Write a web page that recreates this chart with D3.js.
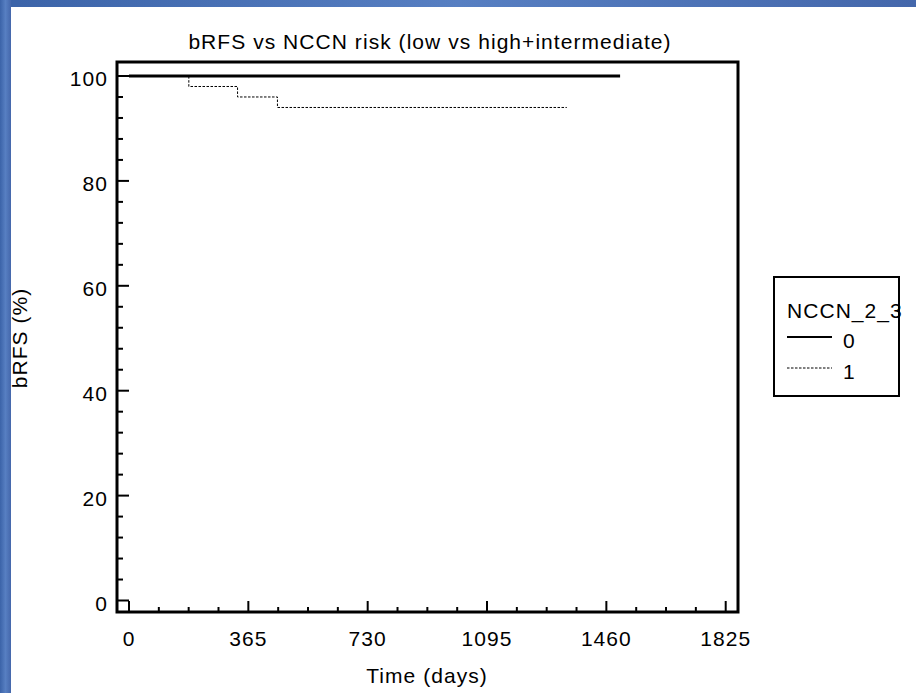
<!DOCTYPE html>
<html>
<head>
<meta charset="utf-8">
<script src="https://cdn.jsdelivr.net/npm/d3@7.9.0/dist/d3.min.js"></script>
<style>
  body { margin: 0; background: #fff; }
  svg { display: block; }
  text { font-family: "Liberation Sans", Arial, sans-serif; font-size: 21px; letter-spacing: 1.05px; fill: #000; }
</style>
</head>
<body>
<svg id="chart" width="916" height="693"></svg>
<script>
// curve data (days, bRFS %)
const groupNames = ["0", "1"];
const days0 = [0, 1502];
const surv0 = [100, 100];
const days1 = [0, 183, 332, 454, 1339];
const surv1 = [100, 98, 96, 94, 94];

const xMajor = [0, 365, 730, 1095, 1460, 1825];
const yMajor = [0, 20, 40, 60, 80, 100];

const W = 916, H = 693;
const frame = { left: 117, top: 62, right: 738, bottom: 612 };

const svg = d3.select("#chart");

// slide background: blue band on top and left, white panel
const grad = svg.append("defs").append("linearGradient")
  .attr("id", "slide").attr("x1", "0").attr("x2", "1").attr("y1", "0").attr("y2", "0");
grad.append("stop").attr("offset", "0").attr("stop-color", "#3b63a8");
grad.append("stop").attr("offset", "0.5").attr("stop-color", "#577fc2");
grad.append("stop").attr("offset", "1").attr("stop-color", "#4467ab");
svg.append("rect").attr("width", W).attr("height", H).attr("fill", "url(#slide)");
svg.append("rect").attr("x", 11).attr("y", 7).attr("width", W - 11).attr("height", H - 7).attr("fill", "#fff");

const x = d3.scaleLinear().domain([0, 1825]).range([129, 725.7]);
const y = d3.scaleLinear().domain([0, 100]).range([600.5, 76]);

// y axis label, partly hidden under the blue band like the original
svg.append("text")
  .attr("transform", "translate(27,338) rotate(-90)")
  .attr("text-anchor", "middle")
  .text("bRFS (%)");
svg.append("rect").attr("x", 0).attr("y", 0).attr("width", 11).attr("height", H).attr("fill", "url(#slide)");

// frame
svg.append("rect")
  .attr("x", frame.left).attr("y", frame.top)
  .attr("width", frame.right - frame.left).attr("height", frame.bottom - frame.top)
  .attr("fill", "none").attr("stroke", "#000").attr("stroke-width", 3);

// ticks point inward
const yMinor = d3.range(0, 101, 4).filter(v => v % 20 !== 0);
const xMinor = d3.range(0, 1826, 91.25).filter(v => Math.abs(v % 365) > 1e-6);

const ticks = svg.append("g").attr("stroke", "#000").attr("stroke-width", 2);
ticks.selectAll(".ymaj").data(yMajor).join("line")
  .attr("x1", frame.left).attr("x2", frame.left + 12)
  .attr("y1", d => y(d)).attr("y2", d => y(d));
ticks.selectAll(".ymin").data(yMinor).join("line")
  .attr("x1", frame.left).attr("x2", frame.left + 6)
  .attr("y1", d => y(d)).attr("y2", d => y(d));
ticks.selectAll(".xmaj").data(xMajor).join("line")
  .attr("x1", d => x(d)).attr("x2", d => x(d))
  .attr("y1", frame.bottom).attr("y2", frame.bottom - 11);
ticks.selectAll(".xmin").data(xMinor).join("line")
  .attr("x1", d => x(d)).attr("x2", d => x(d))
  .attr("y1", frame.bottom).attr("y2", frame.bottom - 5);

svg.append("g").selectAll("text").data(yMajor).join("text")
  .attr("x", 108).attr("y", d => y(d) + 10)
  .attr("text-anchor", "end")
  .text(d => d);

svg.append("g").selectAll("text").data(xMajor).join("text")
  .attr("x", d => x(d)).attr("y", 646)
  .attr("text-anchor", "middle")
  .text(d => d);

svg.append("text").attr("x", 427).attr("y", 683).attr("text-anchor", "middle").text("Time (days)");
svg.append("text").attr("x", 430).attr("y", 49).attr("text-anchor", "middle")
  .text("bRFS vs NCCN risk (low vs high+intermediate)");

// Kaplan-Meier curves
const step = d3.line().curve(d3.curveStepAfter).x(d => x(d[0])).y(d => y(d[1]));
const series = [
  { name: groupNames[0], pts: d3.zip(days0, surv0), width: 3, dash: null },
  { name: groupNames[1], pts: d3.zip(days1, surv1), width: 1, dash: "2.5,1.5" }
];
svg.append("g").selectAll("path").data(series.slice().reverse()).join("path")
  .attr("d", d => step(d.pts))
  .attr("fill", "none").attr("stroke", "#000")
  .attr("stroke-width", d => d.width)
  .attr("stroke-dasharray", d => d.dash);

// legend
const lg = svg.append("g");
lg.append("rect").attr("x", 774).attr("y", 277).attr("width", 125).attr("height", 119)
  .attr("fill", "#fff").attr("stroke", "#000").attr("stroke-width", 2);
lg.append("text").attr("x", 787).attr("y", 318).text("NCCN_2_3");
series.forEach((s, i) => {
  const ly = 337 + i * 31;
  lg.append("line").attr("x1", 787).attr("x2", 832).attr("y1", ly).attr("y2", ly)
    .attr("stroke", "#000").attr("stroke-width", s.width === 3 ? 2 : 1)
    .attr("stroke-dasharray", s.dash);
  lg.append("text").attr("x", 843).attr("y", ly + 11).text(s.name);
});
</script>
</body>
</html>
